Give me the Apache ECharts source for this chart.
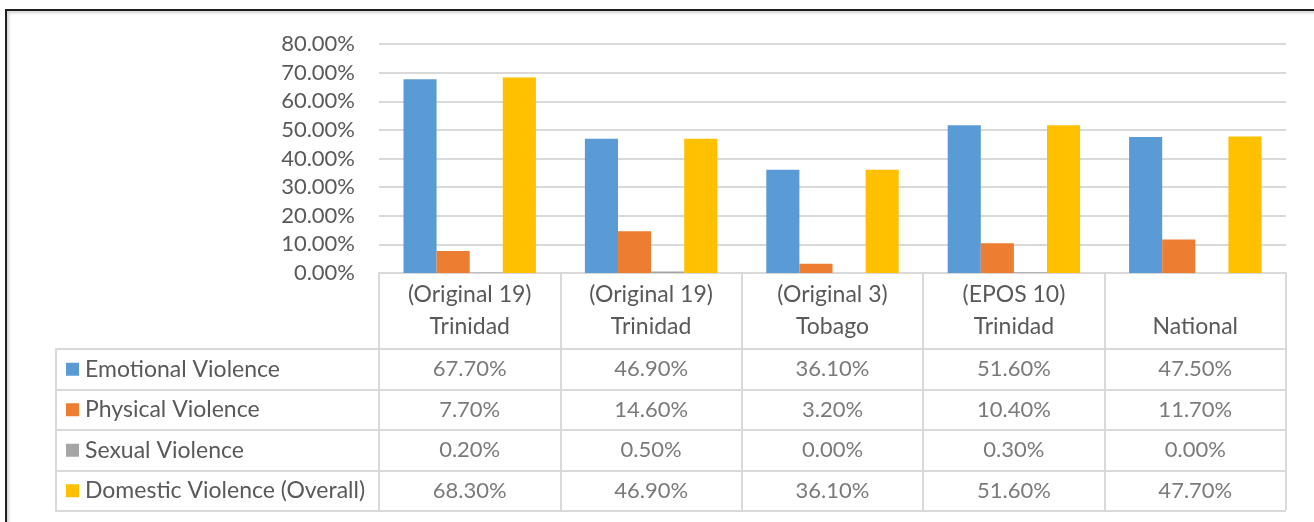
<!DOCTYPE html>
<html>
<head>
<meta charset="utf-8">
<script src="https://cdn.jsdelivr.net/npm/echarts@6/dist/echarts.min.js"></script>
<style>
  html, body { margin: 0; padding: 0; background: #fff; overflow: hidden; }
  #frame {
    position: absolute; left: 5px; top: 9px; width: 1330px; height: 530px;
    border-top: 2px solid #1e1e1e; border-left: 2px solid #1e1e1e;
    box-shadow: inset 2px 2px 3px #d4d4d4;
  }
  #chart { position: absolute; left: 0; top: 0; width: 1314px; height: 522px; }
</style>
</head>
<body>
<div id="frame"></div>
<div id="chart"></div>
<script>
// categories (header of the data table)
const categories = ['(Original 19)\nTrinidad', '(Original 19)\nTrinidad', '(Original 3)\nTobago', '(EPOS 10)\nTrinidad', '\nNational'];
const seriesNames = ['Emotional Violence', 'Physical Violence', 'Sexual Violence', 'Domestic Violence (Overall)'];

// values in percent
const emotional = [67.7, 46.9, 36.1, 51.6, 47.5];
const physical = [7.7, 14.6, 3.2, 10.4, 11.7];
const sexual = [0.2, 0.5, 0.0, 0.3, 0.0];
const domestic = [68.3, 46.9, 36.1, 51.6, 47.7];

const yTicks = [0, 10, 20, 30, 40, 50, 60, 70, 80];

const colors = ['#5B9BD5', '#ED7D31', '#A5A5A5', '#FFC000'];
const allValues = [emotional, physical, sexual, domestic];

const textColor = '#595959';
const lineColor = '#d9d9d9';
const numSize = 22;   // numbers
const wordSize = 23;  // words (Calibri letters are a bit wider than Lato's)
const pct = v => v.toFixed(2) + '%';

const chart = echarts.init(document.getElementById('chart'));

// cells of the data table
const cells = [];
allValues.forEach((row, r) => {
  row.forEach((v, c) => cells.push([c, r, v]));
});

const rich = {
  t: { fontSize: wordSize, color: textColor, padding: [0, 0, 0, 6] }
};
colors.forEach((c, i) => {
  rich['sq' + i] = { width: 13, height: 13, backgroundColor: c };
});

const option = {
  animation: false,
  backgroundColor: 'transparent',
  textStyle: { fontFamily: 'Lato' },
  grid: [
    { left: 379, right: 28, top: 44, bottom: 249 },
    { left: 379, right: 28, top: 349, bottom: 11 }
  ],
  xAxis: [
    {
      gridIndex: 0,
      type: 'category',
      data: categories,
      axisLine: { lineStyle: { color: lineColor, width: 2 } },
      axisTick: { show: true, length: 237, lineStyle: { color: lineColor, width: 2 } },
      axisLabel: { interval: 0, margin: 6, lineHeight: 32, fontSize: wordSize, color: textColor }
    },
    {
      gridIndex: 1,
      type: 'category',
      data: categories,
      axisLine: { show: false },
      axisTick: { show: false },
      axisLabel: { show: false },
      splitLine: { show: false }
    }
  ],
  yAxis: [
    {
      gridIndex: 0,
      type: 'value',
      min: yTicks[0],
      max: yTicks[yTicks.length - 1],
      interval: yTicks[1] - yTicks[0],
      axisLine: { show: false },
      axisTick: { show: false },
      splitLine: { lineStyle: { color: lineColor, width: 2 } },
      axisLabel: { formatter: pct, margin: 24, fontSize: numSize, color: textColor }
    },
    {
      gridIndex: 1,
      type: 'category',
      data: seriesNames,
      inverse: true,
      axisLine: { show: false },
      axisTick: { show: true, length: 323, lineStyle: { color: lineColor, width: 2 } },
      splitLine: { show: true, lineStyle: { color: lineColor, width: 2 } },
      axisLabel: {
        align: 'left',
        margin: 313,
        formatter: (v, i) => '{sq' + i + '|}{t|' + v + '}',
        rich: rich
      }
    },
    {
      gridIndex: 1,
      type: 'category',
      data: seriesNames,
      position: 'left',
      offset: 323,
      axisLine: { show: true, lineStyle: { color: lineColor, width: 2 } },
      axisTick: { show: false },
      axisLabel: { show: false },
      splitLine: { show: false }
    }
  ],
  series: [
    ...seriesNames.map((name, i) => ({
      name: name,
      type: 'bar',
      xAxisIndex: 0,
      yAxisIndex: 0,
      data: allValues[i],
      barGap: '0%',
      barCategoryGap: '27%',
      itemStyle: { color: colors[i] }
    })),
    {
      type: 'scatter',
      xAxisIndex: 1,
      yAxisIndex: 1,
      data: cells,
      symbolSize: 1,
      itemStyle: { color: 'rgba(0,0,0,0)' },
      label: {
        show: true,
        position: 'inside',
        formatter: p => pct(p.value[2]),
        fontSize: numSize,
        color: textColor
      }
    }
  ]
};

chart.setOption(option);
</script>
</body>
</html>
